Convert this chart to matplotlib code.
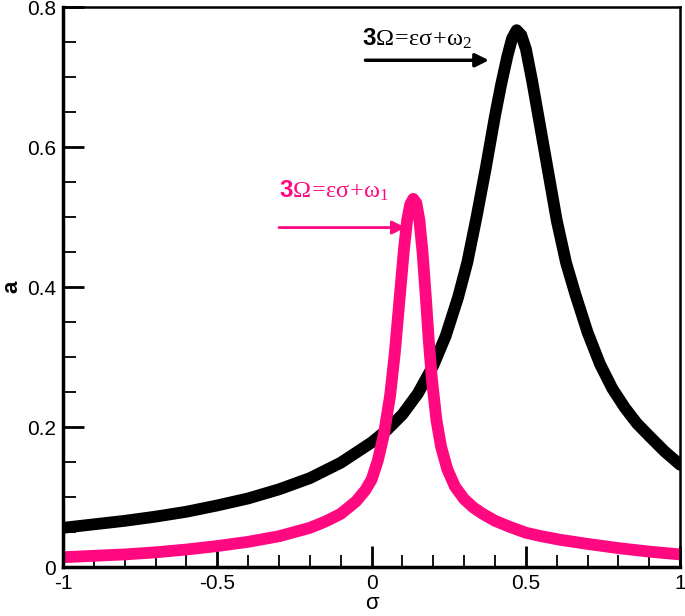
import numpy as np
import matplotlib
matplotlib.use("Agg")
import matplotlib.pyplot as plt
from matplotlib.ticker import MultipleLocator

plt.rcParams.update({'font.family': 'Liberation Sans',
                     'mathtext.fontset': 'custom',
                     'mathtext.rm': 'Liberation Serif',
                     'mathtext.it': 'Liberation Serif',
                     'mathtext.bf': 'Liberation Sans:bold',
                     'font.size': 14})

# curve through omega_2 (black)
sig_b = [-1.0, -0.9, -0.8, -0.7, -0.6, -0.5, -0.4, -0.3, -0.2, -0.1, 0.0,
         0.05, 0.1, 0.15, 0.2, 0.24, 0.28, 0.31, 0.34, 0.37, 0.40, 0.42,
         0.44, 0.455, 0.47, 0.485, 0.50, 0.52, 0.54, 0.56, 0.58, 0.60, 0.63,
         0.66, 0.70, 0.74, 0.78, 0.82, 0.86, 0.9, 0.95, 1.0]
a_b = [0.056, 0.061, 0.066, 0.072, 0.079, 0.088, 0.098, 0.111, 0.127, 0.149,
       0.178, 0.196, 0.218, 0.248, 0.288, 0.33, 0.385, 0.435, 0.50, 0.57,
       0.645, 0.69, 0.73, 0.755, 0.767, 0.76, 0.74, 0.695, 0.645, 0.595,
       0.545, 0.495, 0.435, 0.39, 0.335, 0.29, 0.255, 0.228, 0.205, 0.187,
       0.165, 0.146]

# curve through omega_1 (pink)
sig_p = [-1.0, -0.9, -0.8, -0.7, -0.6, -0.5, -0.4, -0.3, -0.2, -0.15, -0.1,
         -0.05, -0.02, 0.0, 0.02, 0.04, 0.06, 0.075, 0.09, 0.105, 0.115,
         0.125, 0.135, 0.145, 0.155, 0.165, 0.175, 0.185, 0.195, 0.21, 0.225,
         0.245, 0.27, 0.3, 0.33, 0.36, 0.4, 0.45, 0.5, 0.55, 0.61, 0.7, 0.8,
         0.9, 1.0]
a_p = [0.014, 0.016, 0.018, 0.021, 0.025, 0.030, 0.036, 0.044, 0.056, 0.065,
       0.076, 0.094, 0.11, 0.125, 0.152, 0.19, 0.245, 0.305, 0.38, 0.455,
       0.495, 0.518, 0.526, 0.52, 0.495, 0.45, 0.39, 0.325, 0.27, 0.21,
       0.172, 0.14, 0.115, 0.097, 0.085, 0.076, 0.066, 0.057, 0.049, 0.044,
       0.039, 0.033, 0.027, 0.022, 0.018]

pink = '#ff0880'

fig = plt.figure(figsize=(6.85, 6.16), dpi=100)
ax = fig.add_axes([0.092, 0.0795, 0.901, 0.909])

ax.plot(sig_b, a_b, color='black', lw=8.5, solid_capstyle='round',
        solid_joinstyle='round')
ax.plot(sig_p, a_p, color=pink, lw=8.5, solid_capstyle='round',
        solid_joinstyle='round')

ax.set_xlim(-1, 1)
ax.set_ylim(0, 0.8)
ax.xaxis.set_minor_locator(MultipleLocator(0.1))
ax.yaxis.set_minor_locator(MultipleLocator(0.05))
ax.set_xticks([-1, -0.5, 0, 0.5, 1])
ax.set_xticklabels(['-1', '-0.5', '0', '0.5', '1'])
ax.set_yticks([0, 0.2, 0.4, 0.6, 0.8])
ax.set_yticklabels(['0', '0.2', '0.4', '0.6', '0.8'])
ax.tick_params(which='major', direction='in', length=15, width=2,
               labelsize=15, pad=5)
ax.tick_params(which='minor', direction='in', length=9, width=1.3)
ax.tick_params(top=False, right=False, which='both')
ax.spines['left'].set_linewidth(2.5)
ax.spines['bottom'].set_linewidth(2.5)
ax.spines['top'].set_linewidth(1.8)
ax.spines['right'].set_linewidth(1.8)

ax.set_xlabel('σ', fontsize=16, labelpad=0)
ax.set_ylabel('a', fontsize=16, fontweight='bold', labelpad=3)

ax.text(-0.3, 0.538, r'$\mathbf{3}\Omega\!=\!\varepsilon\sigma\!+\!\omega_1$',
        color=pink, fontsize=17.5, va='center', ha='left')
ax.annotate('', xy=(0.11, 0.485), xytext=(-0.3, 0.485),
            arrowprops=dict(arrowstyle='-|>', color=pink, lw=2,
                            mutation_scale=20, shrinkA=0, shrinkB=0))

ax.text(-0.03, 0.755, r'$\mathbf{3}\Omega\!=\!\varepsilon\sigma\!+\!\omega_2$',
        color='black', fontsize=17.5, va='center', ha='left')
ax.annotate('', xy=(0.38, 0.724), xytext=(-0.02, 0.724),
            arrowprops=dict(arrowstyle='-|>', color='black', lw=2.5,
                            mutation_scale=20, shrinkA=0, shrinkB=0))

fig.savefig('out.png', dpi=100)
